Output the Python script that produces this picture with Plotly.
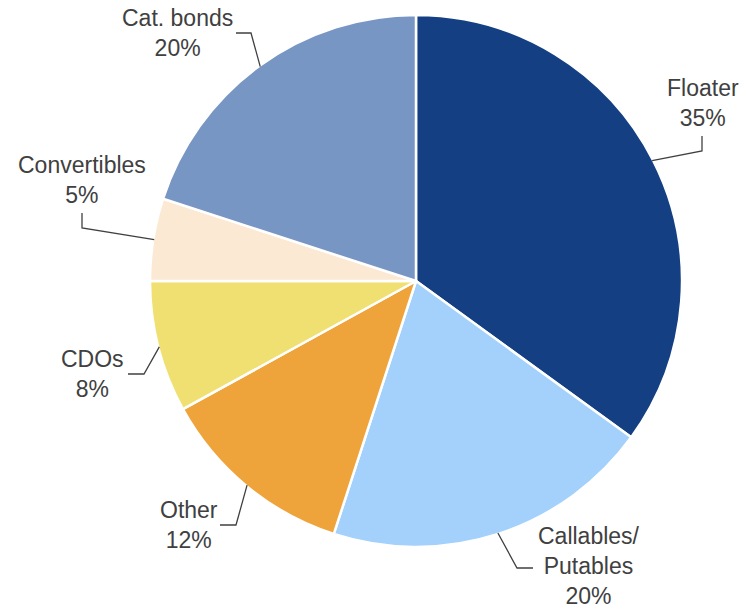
import math
import plotly.graph_objects as go

categories = ["Floater", "Callables/<br>Putables", "Other", "CDOs", "Convertibles", "Cat. bonds"]
values = [35, 20, 12, 8, 5, 20]
colors = ["#143F82", "#A3D1FB", "#EEA43A", "#F0E072", "#FBE9D4", "#7896C4"]

W, H = 748, 608
CX, CY, R = 416, 281, 266

# label block centres and leader-line elbows (pixels)
label_pos = [(703, 103), (589, 566), (189, 525), (92, 374), (82, 180), (177, 33)]
elbows = [
    [(702, 151), (702, 136)],
    [(517, 568), (533, 568)],
    [(236, 525), (220, 525)],
    [(144, 374), (128, 374)],
    [(82, 228), (82, 213)],
    [(251, 33), (236, 33)],
]

def px(x):
    return x / W

def py(y):
    return 1 - y / H

fig = go.Figure(go.Pie(
    labels=categories,
    values=values,
    sort=False,
    direction="clockwise",
    rotation=0,
    marker=dict(colors=colors, line=dict(color="white", width=2.5)),
    textinfo="none",
    hoverinfo="label+percent",
    showlegend=False,
    domain=dict(x=[(CX - R) / W, (CX + R) / W], y=[(H - CY - R) / H, (H - CY + R) / H]),
))

total = sum(values)
cum = 0
shapes = []
annotations = []
for i, v in enumerate(values):
    mid = (cum + v / 2) / total * 2 * math.pi
    cum += v
    sx = CX + (R - 1) * math.sin(mid)
    sy = CY - (R - 1) * math.cos(mid)
    pts = [(sx, sy)] + elbows[i]
    path = "M " + " L ".join(f"{px(x):.5f},{py(y):.5f}" for x, y in pts)
    shapes.append(dict(type="path", xref="paper", yref="paper", path=path,
                       line=dict(color="#404040", width=1.3)))
    lx, ly = label_pos[i]
    annotations.append(dict(
        x=px(lx), y=py(ly), xref="paper", yref="paper",
        text=f"{categories[i]}<br>{v}%", showarrow=False,
        xanchor="center", yanchor="middle", align="center", borderpad=0,
        font=dict(family="Liberation Sans, Arial, sans-serif", size=23, color="#404040"),
    ))

fig.update_layout(
    width=W, height=H,
    margin=dict(l=0, r=0, t=0, b=0),
    paper_bgcolor="white",
    plot_bgcolor="white",
    shapes=shapes,
    annotations=annotations,
)

fig.write_html(
    "out.html",
    config={"displayModeBar": False},
    post_script="document.body.style.margin='0';document.body.style.overflow='hidden';",
)
